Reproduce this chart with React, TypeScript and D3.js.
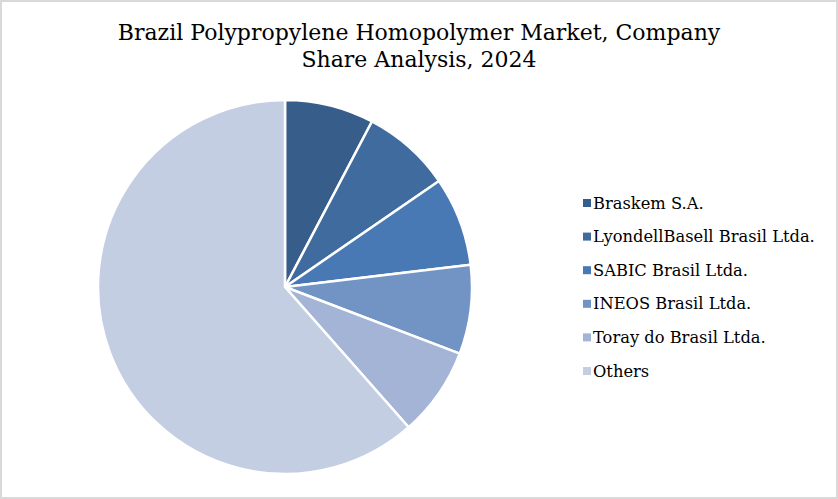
import { arc, pie, PieArcDatum } from 'd3';

// company share, %
const companies = [
  'Braskem S.A.',
  'LyondellBasell Brasil Ltda.',
  'SABIC Brasil Ltda.',
  'INEOS Brasil Ltda.',
  'Toray do Brasil Ltda.',
  'Others'
];
const shares = [7.7, 7.7, 7.7, 7.7, 7.7, 61.5];
const colors = ['#375E8A', '#3F6B9F', '#4879B4', '#7294C5', '#A3B4D6', '#C4CEE3'];
const titleLines = [
  'Brazil Polypropylene Homopolymer Market, Company',
  'Share Analysis, 2024'
];

interface Slice {
  name: string;
  value: number;
  color: string;
}

const data: Slice[] = companies.map((name, i) => ({
  name,
  value: shares[i],
  color: colors[i]
}));

function App(): JSX.Element {
  const width = 838;
  const height = 499;
  const cx = 285;
  const cy = 287;
  const radius = 187;

  const pieGen = pie<Slice>()
    .value((d) => d.value)
    .sort(null);
  const arcGen = arc<PieArcDatum<Slice>>().innerRadius(0).outerRadius(radius);
  const arcs = pieGen(data);

  const font = 'Georgia, "DejaVu Serif", serif';

  return (
    <svg
      width={width}
      height={height}
      style={{ position: 'absolute', left: 0, top: 0 }}
    >
      <rect x={1} y={1} width={width - 2} height={height - 2} fill="#fff" stroke="#D9D9D9" strokeWidth={2} />
      {titleLines.map((t, i) => (
        <text
          key={t}
          x={419}
          y={40 + i * 27}
          textAnchor="middle"
          fontFamily={font}
          fontSize={22}
          fill="#000"
        >
          {t}
        </text>
      ))}
      <g transform={`translate(${cx},${cy})`}>
        {arcs.map((a) => (
          <path
            key={a.data.name}
            d={arcGen(a) ?? ''}
            fill={a.data.color}
            stroke="#fff"
            strokeWidth={2.5}
            strokeLinejoin="round"
          />
        ))}
      </g>
      <g>
        {data.map((d, i) => (
          <g key={d.name} transform={`translate(583,${203 + i * 33.6})`}>
            <rect x={0} y={-4} width={8} height={8} fill={d.color} />
            <text x={10} y={5.5} fontFamily={font} fontSize={16.3} fill="#000">
              {d.name}
            </text>
          </g>
        ))}
      </g>
    </svg>
  );
}

export default App;
